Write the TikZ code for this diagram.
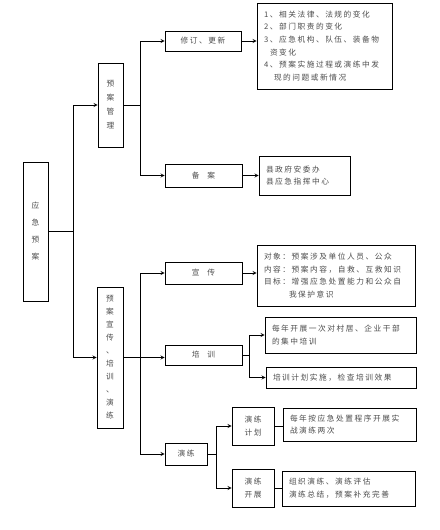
\documentclass[tikz,border=0pt]{standalone}
\usepackage{fontspec}
\newfontfamily\zh{Noto Sans CJK SC}[LetterSpace=20]
\usetikzlibrary{shapes,arrows,positioning,calc}

\begin{document}
\begin{tikzpicture}[x=1pt, y=-1pt,
    box/.style={rectangle, draw, line width=0.8pt, inner sep=0pt, align=center, text=black!70,
        font={\zh\fontsize{7.7}{12.7}\selectfont}},
    note/.style={box, align=left, inner xsep=7pt, text width=#1},
    arrow/.style={->, >=stealth, line width=0.8pt},
    line/.style={line width=0.8pt}
]
\useasboundingbox (0,0) rectangle (439,530);

% root and the two branches
\node[box, minimum width=25pt, minimum height=139pt, font={\zh\fontsize{7.7}{17}\selectfont}] (root) at (35.5,231.5) {应\\急\\预\\案};
\node[box, minimum width=25pt, minimum height=84pt, font={\zh\fontsize{7.7}{14}\selectfont}] (mgmt) at (110.5,105) {预\\案\\管\\理};
\node[box, minimum width=26pt, minimum height=141pt, font={\zh\fontsize{7.7}{13}\selectfont}] (train) at (110,357.5) {预\\案\\宣\\传\\、\\培\\训\\、\\演\\练};

% plan management
\node[box, minimum width=76pt, minimum height=20pt] (revise) at (203,41) {修订、更新};
\node[note=121pt, minimum height=86pt] (reviseText) at (324.5,46) {1、相关法律、法规的变化\\2、部门职责的变化\\3、应急机构、队伍、装备物\\\hspace{6pt}资变化\\4、预案实施过程或演练中发\\\hspace{10pt}现的问题或新情况};
\node[box, minimum width=77pt, minimum height=23pt] (record) at (203.5,175.5) {备\hspace{1em}案};
\node[note=77pt, minimum height=39pt] (recordText) at (304.5,175.5) {县政府安委办\\县应急指挥中心};

% publicity, training, drills
\node[box, minimum width=77pt, minimum height=22pt] (promo) at (203.5,273) {宣\hspace{1em}传};
\node[note=144pt, minimum height=61pt] (promoText) at (336,275.5) {对象：预案涉及单位人员、公众\\内容：预案内容，自救、互救知识\\目标：增强应急处置能力和公众自\\\hspace{25pt}我保护意识};
\node[box, minimum width=77pt, minimum height=20pt] (course) at (203.5,355) {培\hspace{1em}训};
\node[note=137pt, minimum height=36pt] (courseA) at (340.5,335) {每年开展一次对村居、企业干部\\的集中培训};
\node[note=136pt, minimum height=21pt] (courseB) at (341,377.5) {培训计划实施，检查培训效果};
\node[box, minimum width=42pt, minimum height=22pt] (drill) at (186,454) {演练};
\node[box, minimum width=42pt, minimum height=38pt] (drillPlan) at (253,426) {演练\\计划};
\node[box, minimum width=42pt, minimum height=38pt] (drillRun) at (253,488) {演练\\开展};
\node[note=119pt, minimum height=33pt] (drillPlanText) at (349.5,424.5) {每年按应急处置程序开展实\\战演练两次};
\node[note=119pt, minimum height=35pt] (drillRunText) at (348.5,488.5) {组织演练、演练评估\\演练总结，预案补充完善};

% junctions
\coordinate (j1) at (73,231.5);
\coordinate (j2) at (140,105);
\coordinate (j3) at (140,357.5);
\coordinate (j4) at (249,355);
\coordinate (j5) at (216,454);

\draw[line] (root.east) -- (j1);
\draw[arrow] (j1) |- (mgmt.west);
\draw[arrow] (j1) |- (train.west);

\draw[line] (mgmt.east) -- (j2);
\draw[arrow] (j2) |- (revise.west);
\draw[arrow] (j2) |- (record.west);
\draw[arrow] (revise.east) -- (reviseText.west |- revise.east);
\draw[arrow] (record.east) -- (recordText.west);

\draw[line] (train.east) -- (j3);
\draw[arrow] (j3) |- (promo.west);
\draw[arrow] (j3) -- (course.west |- j3);
\draw[arrow] (j3) |- (drill.west);
\draw[arrow] (promo.east) -- (promoText.west |- promo.east);

\draw[line] (course.east) -- (j4);
\draw[arrow] (j4) |- (courseA.west);
\draw[arrow] (j4) |- (courseB.west);

\draw[line] (drill.east) -- (j5);
\draw[arrow] (j5) |- (drillPlan.west);
\draw[arrow] (j5) |- (drillRun.west);
\draw[line] (drillPlan.east) -- (drillPlanText.west |- drillPlan.east);
\draw[line] (drillRun.east) -- (drillRunText.west |- drillRun.east);
\end{tikzpicture}
\end{document}
